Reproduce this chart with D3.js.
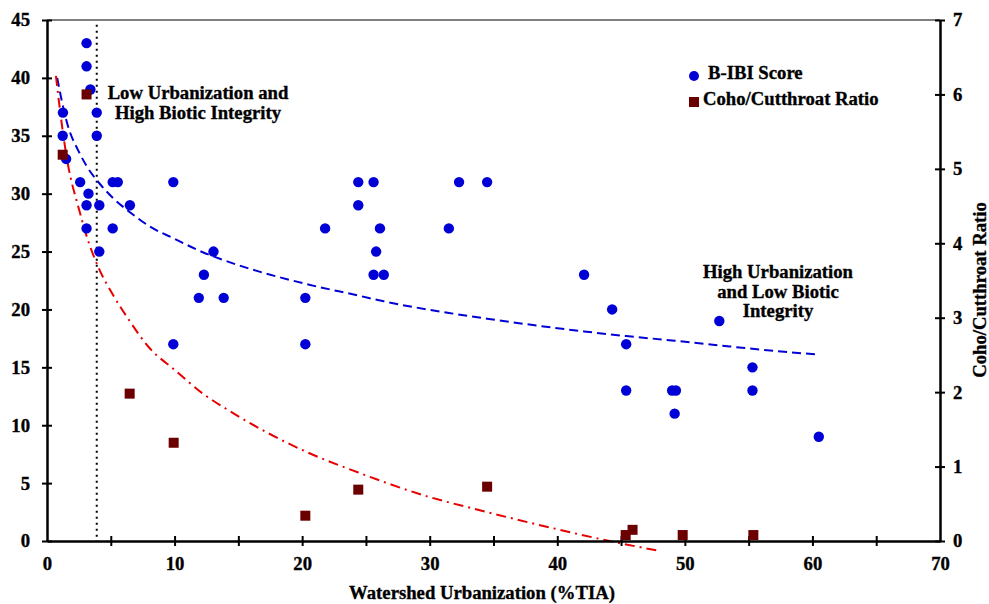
<!DOCTYPE html>
<html>
<head>
<meta charset="utf-8">
<script src="https://cdn.jsdelivr.net/npm/d3@7"></script>
<style>
html,body{margin:0;padding:0;background:#fff;}
svg text{font-family:"Liberation Serif","Times New Roman",serif;font-weight:bold;fill:#000;stroke:#000;stroke-width:0.35px;}
</style>
</head>
<body>
<svg id="chart" width="989" height="604"></svg>
<script>
// B-IBI scores (left axis) vs watershed urbanization (%TIA)
const bibiX = [1.25,1.23,1.5,2.6,3.1,3.1,3.4,3.25,3.1,3.1,3.9,3.9,4.1,4.1,5.15,5.55,5.15,6.5,9.9,9.9,11.9,12.3,13.05,13.85,20.25,20.25,21.8,24.4,24.4,25.6,25.8,25.6,26.1,26.4,31.5,32.3,34.5,42.1,44.3,45.4,45.4,49.0,49.3,49.2,52.7,55.3,55.3,60.5];
const bibiY = [37,35,33,31,43,41,39,30,29,27,37,35,29,25,31,31,27,29,31,17,21,23,25,21,21,17,27,31,29,31,25,23,27,23,27,31,31,23,20,17,13,13,13,11,19,15,13,9];
// Coho/Cutthroat ratio (right axis)
const cohoX = [3.1,1.23,6.48,9.93,20.25,24.4,34.5,45.36,45.9,49.83,55.37];
const cohoY = [6.0,5.19,1.98,1.32,0.34,0.69,0.73,0.08,0.15,0.08,0.08];
// Trend lines
const bibiTrendX = [0.8,1.2,1.5,2.6,3.1,4.1,5.2,6.5,8,10,12.3,14,20.3,24.4,26.4,31.5,34.5,42.1,45.4,49.2,52.7,55.3,60.5];
const bibiTrendY = [40.0,37.8,36.4,33.4,32.4,30.9,29.6,28.4,27.2,26.1,24.9,24.2,22.2,21.2,20.7,19.7,19.2,18.1,17.7,17.3,16.9,16.6,16.1];
const cohoTrendX = [0.7,1.2,1.5,2.6,3.1,4.1,5.2,6.5,8,10,12.3,14,20.3,24.4,29.8,34,39.7,44.1,47.9];
const cohoTrendY = [6.25,5.55,5.2,4.4,4.1,3.65,3.3,2.95,2.6,2.3,1.97,1.78,1.2,0.92,0.6,0.41,0.17,0.0,-0.13];
const xTicks = [0,10,20,30,40,50,60,70];
const xMinorTicks = [5,15,25,35,45,55,65];
const yLeftTicks = [0,5,10,15,20,25,30,35,40,45];
const yRightTicks = [0,1,2,3,4,5,6,7];
const thresholdX = 3.9;
const legendLabels = ["B-IBI Score","Coho/Cutthroat Ratio"];
const xTitle = "Watershed Urbanization (%TIA)";
const yRightTitle = "Coho/Cutthroat Ratio";
const noteLow = ["Low Urbanization and","High Biotic Integrity"];
const noteHigh = ["High Urbanization","and Low Biotic","Integrity"];

const FS = "18.7px";
const svg = d3.select("#chart");
const L = 47, R = 940, T = 20, B = 541;
const x = d3.scaleLinear().domain([0,70]).range([L,R]);
const yL = d3.scaleLinear().domain([0,45]).range([B,T]);
const yR = d3.scaleLinear().domain([0,7]).range([B,T]);

const BLUE = "#0000d6", DARKRED = "#6b0000", RED = "#e60000";

// top border
svg.append("line").attr("x1",L).attr("x2",R).attr("y1",T).attr("y2",T)
  .attr("stroke","#808080").attr("stroke-width",2);

// threshold dotted line
svg.append("line").attr("x1",x(thresholdX)).attr("x2",x(thresholdX))
  .attr("y1",yL(44.6)).attr("y2",B)
  .attr("stroke","#000").attr("stroke-width",2).attr("stroke-dasharray","2,4");

// trend lines
const lineB = d3.line().x((d,i)=>x(bibiTrendX[i])).y(d=>yL(d)).curve(d3.curveMonotoneX);
svg.append("path").attr("d",lineB(bibiTrendY)).attr("fill","none")
  .attr("stroke",BLUE).attr("stroke-width",2).attr("stroke-dasharray","9,5");
const lineC = d3.line().x((d,i)=>x(cohoTrendX[i])).y(d=>yR(d)).curve(d3.curveMonotoneX);
svg.append("path").attr("d",lineC(cohoTrendY)).attr("fill","none")
  .attr("stroke",RED).attr("stroke-width",2).attr("stroke-dasharray","10,5,2,5");

// axes
function styleAxis(g){
  g.attr("font-family",null).attr("font-size",null);
  g.select(".domain").attr("stroke","#000").attr("stroke-width",2.5);
  g.selectAll(".tick line").attr("stroke","#000").attr("stroke-width",2);
  g.selectAll(".tick text").style("font-size",FS).style("font-family","'Liberation Serif',serif").style("font-weight","bold");
}
const gx = svg.append("g").attr("transform",`translate(0,${B})`)
  .call(d3.axisBottom(x).tickValues(xTicks).tickSize(5).tickSizeOuter(0).tickPadding(11).tickFormat(d3.format("d")));
styleAxis(gx);
gx.selectAll(".tick line").attr("y1",-5);
gx.selectAll(".tick").filter(d=>d===0||d===70).select("line").remove();
const gxm = svg.append("g").attr("transform",`translate(0,${B})`)
  .call(d3.axisBottom(x).tickValues(xMinorTicks).tickSize(5).tickFormat(""));
gxm.select(".domain").remove();
gxm.selectAll(".tick line").attr("stroke","#000").attr("stroke-width",2).attr("y1",-5);

const gyl = svg.append("g").attr("transform",`translate(${L},0)`)
  .call(d3.axisLeft(yL).tickValues(yLeftTicks).tickSize(5).tickSizeOuter(0).tickPadding(12).tickFormat(d3.format("d")));
styleAxis(gyl);
gyl.selectAll(".tick line").attr("x1",5);

const gyr = svg.append("g").attr("transform",`translate(${R},0)`)
  .call(d3.axisRight(yR).tickValues(yRightTicks).tickSize(5).tickSizeOuter(0).tickPadding(8).tickFormat(d3.format("d")));
styleAxis(gyr);
gyr.selectAll(".tick line").attr("x1",-5);

// points
svg.append("g").selectAll("circle").data(bibiY).join("circle")
  .attr("cx",(d,i)=>x(bibiX[i])).attr("cy",d=>yL(d)).attr("r",5.2).attr("fill",BLUE);
const sq = 10;
svg.append("g").selectAll("rect").data(cohoY).join("rect")
  .attr("x",(d,i)=>x(cohoX[i])-sq/2).attr("y",d=>yR(d)-sq/2)
  .attr("width",sq).attr("height",sq).attr("fill",DARKRED);

// annotations
const t1 = svg.append("text").attr("text-anchor","middle").style("font-size",FS);
noteLow.forEach((s,i)=>t1.append("tspan").attr("x",198).attr("y",99+i*19.5).text(s));
const t2 = svg.append("text").attr("text-anchor","middle").style("font-size",FS);
noteHigh.forEach((s,i)=>t2.append("tspan").attr("x",778).attr("y",278+i*19.5).text(s));

// legend
svg.append("circle").attr("cx",694).attr("cy",76).attr("r",5).attr("fill",BLUE);
svg.append("text").attr("x",708).attr("y",79).style("font-size",FS).text(legendLabels[0]);
svg.append("rect").attr("x",689).attr("y",97).attr("width",10).attr("height",10).attr("fill",DARKRED);
svg.append("text").attr("x",703).attr("y",105).style("font-size",FS).text(legendLabels[1]);

// axis titles
svg.append("text").attr("x",482).attr("y",599).attr("text-anchor","middle").style("font-size",FS).text(xTitle);
svg.append("text").attr("transform","translate(986,290) rotate(-90)").attr("text-anchor","middle").style("font-size",FS).text(yRightTitle);
</script>
</body>
</html>
